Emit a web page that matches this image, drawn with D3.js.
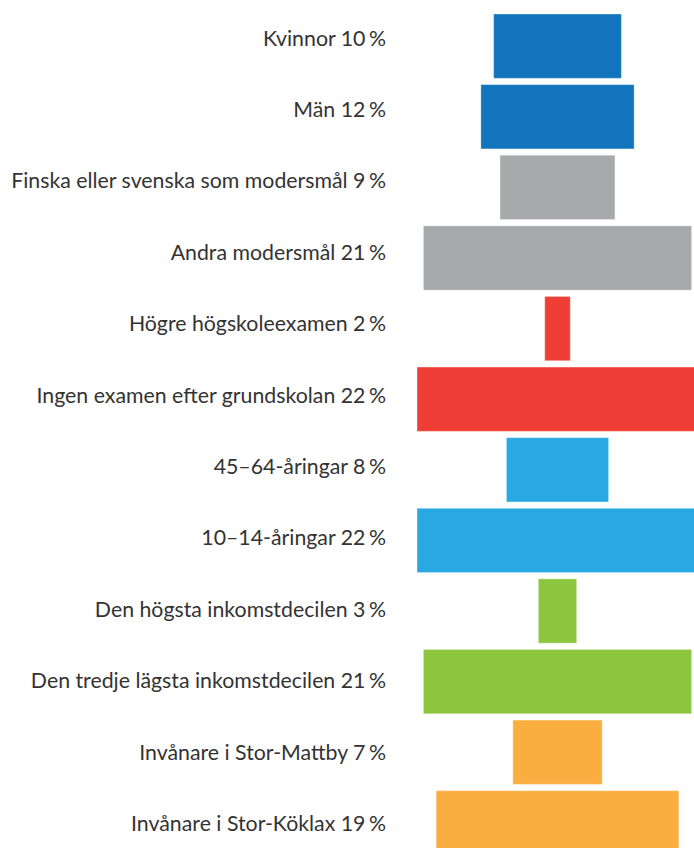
<!DOCTYPE html>
<html>
<head>
<meta charset="utf-8">
<script src="https://cdn.jsdelivr.net/npm/d3@7"></script>
<style>
  body { margin: 0; background: #fff; }
  svg { display: block; }
</style>
</head>
<body>
<div id="chart-area"></div>
<script>
// Data
const labels = [
    'Kvinnor', 'Män',
    'Finska eller svenska som modersmål', 'Andra modersmål',
    'Högre högskoleexamen', 'Ingen examen efter grundskolan',
    '45–64-åringar', '10–14-åringar',
    'Den högsta inkomstdecilen', 'Den tredje lägsta inkomstdecilen',
    'Invånare i Stor-Mattby', 'Invånare i Stor-Köklax'
];
const values = [10, 12, 9, 21, 2, 22, 8, 22, 3, 21, 7, 19];
const groups = [0, 0, 1, 1, 2, 2, 3, 3, 4, 4, 5, 5];
const groupColors = ['#1174bc', '#a7a9ab', '#ef3e35', '#29a9e1', '#8cc63f', '#fbae40'];

const width = 694;
const height = 848;
const centerX = 557.5;

const data = labels.map((d, i) => ({ label: d, value: values[i], group: groups[i] }));

const svg = d3.select('#chart-area')
    .append('svg')
        .attr('width', width)
        .attr('height', height);

// Bar width scale
const x = d3.scaleLinear()
    .domain([0, 22])
    .range([0, 281]);

// Rows
const y = d3.scaleBand()
    .domain(labels)
    .range([14, 855])
    .paddingInner(0.089)
    .paddingOuter(0);

// Label baselines
const yLabel = d3.scalePoint()
    .domain(labels)
    .range([45.7, 831]);

// Bars
svg.selectAll('rect')
    .data(data)
    .enter()
    .append('rect')
        .attr('x', (d) => centerX - x(d.value) / 2)
        .attr('y', (d) => y(d.label))
        .attr('width', (d) => x(d.value))
        .attr('height', y.bandwidth())
        .attr('fill', (d) => groupColors[d.group])
        .attr('stroke', 'rgba(255,255,255,0.35)')
        .attr('stroke-width', 1);

// Labels
const lbl = svg.selectAll('text.label')
    .data(data)
    .enter()
    .append('text')
        .attr('class', 'label')
        .attr('x', 386)
        .attr('y', (d) => yLabel(d.label))
        .attr('text-anchor', 'end')
        .attr('font-family', 'Lato, sans-serif')
        .attr('font-size', '21.3px')
        .attr('fill', '#333333')
        .text((d) => d.label + ' ' + d.value);

lbl.append('tspan')
    .attr('dx', 3.5)
    .text('%');
</script>
</body>
</html>
